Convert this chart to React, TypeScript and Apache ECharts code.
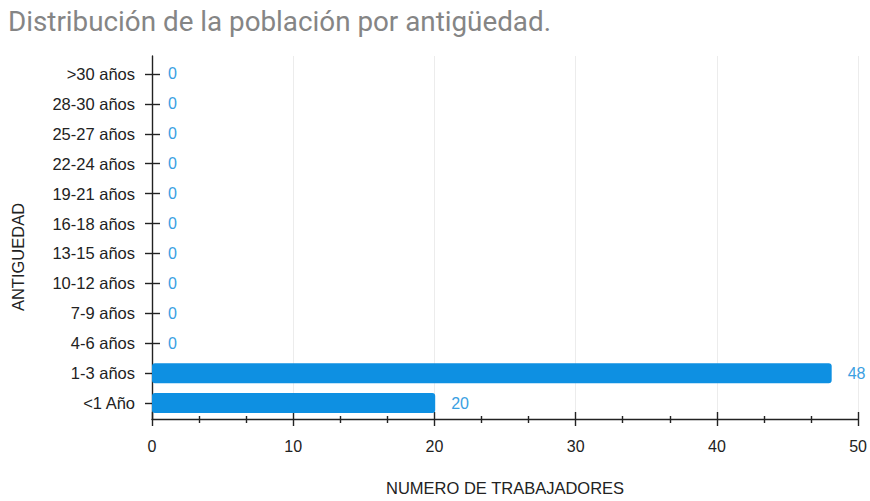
import React, { useEffect, useRef } from "react";
import * as echarts from "echarts";

const categories = [
  "<1 Año",
  "1-3 años",
  "4-6 años",
  "7-9 años",
  "10-12 años",
  "13-15 años",
  "16-18 años",
  "19-21 años",
  "22-24 años",
  "25-27 años",
  "28-30 años",
  ">30 años",
];
const values = [20, 48, 0, 0, 0, 0, 0, 0, 0, 0, 0, 0];
const xTicks = [0, 10, 20, 30, 40, 50];

const titleText = "Distribución de la población por antigüedad.";
const xName = "NUMERO DE TRABAJADORES";
const yName = "ANTIGUEDAD";

export default function App() {
  const ref = useRef<HTMLDivElement>(null);
  useEffect(() => {
    if (!ref.current) return;
    const chart = echarts.init(ref.current, null, { renderer: "svg" });
    const font = "Liberation Sans";
    const xMin = xTicks[0];
    const xMax = xTicks[xTicks.length - 1];
    const xInterval = xTicks[1] - xTicks[0];
    const lineStyle = { color: "#222", width: 1.4 };
    chart.setOption({
      animation: false,
      title: {
        text: titleText,
        left: 3,
        top: 2,
        textStyle: {
          fontFamily: "Roboto",
          fontSize: 27.8,
          fontWeight: "normal",
          color: "#858585",
        },
      },
      graphic: [
        {
          type: "text",
          x: 18,
          y: 257,
          rotation: Math.PI / 2,
          style: {
            text: yName,
            fontFamily: font,
            fontSize: 16.5,
            fill: "#222",
            align: "center",
            verticalAlign: "middle",
          },
        },
      ],
      grid: [
        { left: 152, right: 10, top: 56, bottom: 78 },
        { left: 152, right: 10, top: 59, bottom: 83 },
      ],
      xAxis: [
        {
          gridIndex: 0,
          type: "value",
          min: xMin,
          max: xMax,
          interval: xInterval,
          name: xName,
          nameLocation: "middle",
          nameGap: 60,
          nameTextStyle: { fontFamily: font, fontSize: 16.5, color: "#222" },
          axisLine: { show: true, lineStyle },
          axisTick: { show: true, length: 7, lineStyle },
          minorTick: { show: true, splitNumber: 3, length: 4, lineStyle },
          axisLabel: {
            margin: 19,
            fontFamily: font,
            fontSize: 16,
            color: "#222",
          },
          splitLine: { show: true, lineStyle: { color: "#ececec", width: 1 } },
        },
        {
          gridIndex: 0,
          type: "value",
          position: "bottom",
          min: xMin,
          max: xMax,
          interval: xInterval,
          axisLine: { show: false },
          axisTick: { show: true, inside: true, length: 7, lineStyle },
          minorTick: { show: true, splitNumber: 3, length: 3, lineStyle },
          axisLabel: { show: false },
          splitLine: { show: false },
        },
        {
          gridIndex: 1,
          type: "value",
          min: xMin,
          max: xMax,
          show: false,
        },
      ],
      yAxis: [
        {
          gridIndex: 0,
          type: "value",
          axisLine: { show: true, onZero: false, lineStyle },
          axisTick: { show: false },
          axisLabel: { show: false },
          splitLine: { show: false },
        },
        {
          gridIndex: 1,
          type: "category",
          data: categories,
          axisLine: { show: false },
          axisTick: { show: true, alignWithLabel: true, length: 7, lineStyle },
          axisLabel: {
            margin: 17,
            fontFamily: font,
            fontSize: 16.5,
            color: "#222",
          },
          splitLine: { show: false },
        },
        {
          gridIndex: 1,
          type: "category",
          data: categories,
          position: "left",
          axisLine: { show: false },
          axisTick: {
            show: true,
            inside: true,
            alignWithLabel: true,
            length: 8,
            lineStyle,
          },
          axisLabel: { show: false },
          splitLine: { show: false },
        },
      ],
      series: [
        {
          type: "bar",
          xAxisIndex: 2,
          yAxisIndex: 1,
          data: values,
          barWidth: 20,
          itemStyle: { color: "#0e90e2", borderRadius: 3 },
          label: {
            show: true,
            position: "right",
            distance: 16,
            fontFamily: font,
            fontSize: 16,
            color: "#3aa0e2",
          },
        },
      ],
    });
    return () => chart.dispose();
  }, []);
  return <div ref={ref} style={{ width: 870, height: 501, position: "absolute", left: 0, top: 0 }} />;
}
